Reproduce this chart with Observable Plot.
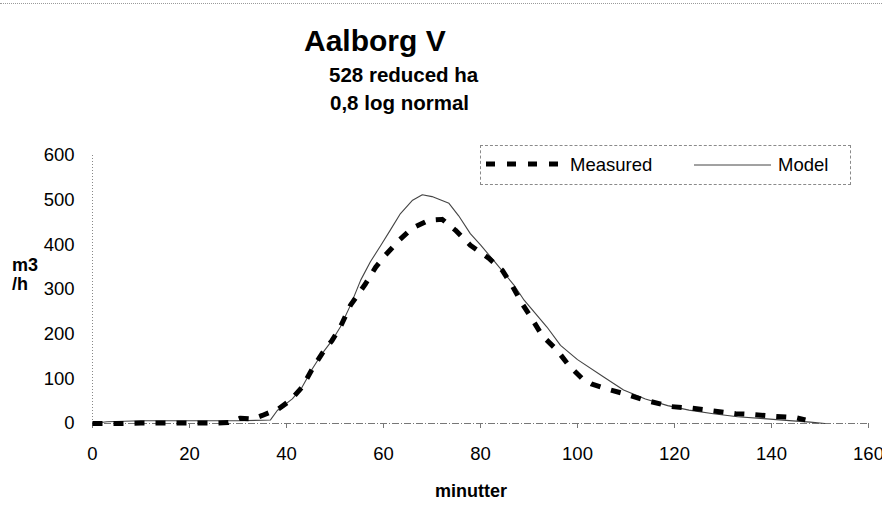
<!DOCTYPE html>
<html>
<head>
<meta charset="utf-8">
<script src="https://cdn.jsdelivr.net/npm/d3@7"></script>
<script src="https://cdn.jsdelivr.net/npm/@observablehq/plot@0.6"></script>
<style>
  body { margin: 0; background: #fff; }
  #wrap { position: relative; width: 882px; height: 508px; overflow: hidden;
          font-family: "Liberation Sans", Arial, Helvetica, sans-serif; color: #000; }
  .t { position: absolute; white-space: nowrap; line-height: 1; }
  .b { font-weight: bold; }
  #legend { position: absolute; left: 480px; top: 145px; width: 369px; height: 38px;
            border: 1px dashed #8a8a8a; }
  #topline { position: absolute; left: 0; top: 3px; width: 882px; border-top: 1px dotted #9a9a9a; }
</style>
</head>
<body>
<div id="wrap">
  <div id="topline"></div>
  <div class="t b" style="left:304px; top:26px; font-size:30px;">Aalborg V</div>
  <div class="t b" style="left:329px; top:65px; font-size:20.5px;">528 reduced ha</div>
  <div class="t b" style="left:330px; top:93px; font-size:20.5px;">0,8 log normal</div>
  <div class="t b" style="left:12px; top:256px; font-size:18px;">m3</div>
  <div class="t b" style="left:12px; top:275px; font-size:18px;">/h</div>
  <div class="t b" style="left:435px; top:482px; font-size:18px;">minutter</div>
  <div id="legend">
    <svg width="369" height="38" style="position:absolute;left:0;top:0;">
      <line x1="5" y1="18" x2="83" y2="18" stroke="#000" stroke-width="5" stroke-dasharray="9,12"/>
      <line x1="213" y1="19" x2="290" y2="19" stroke="#444" stroke-width="1"/>
    </svg>
    <div class="t" style="left:89px; top:10px; font-size:18.5px;">Measured</div>
    <div class="t" style="left:297px; top:10px; font-size:18.5px;">Model</div>
  </div>
  <div id="chart"></div>
</div>
<script>
// Data
const xTicks = [0, 20, 40, 60, 80, 100, 120, 140, 160];
const yTicks = [0, 100, 200, 300, 400, 500, 600];

const measuredMin = [0, 5, 10, 15, 20, 25, 28, 30.5, 33, 35, 38.4, 40.8, 43.2, 45.3, 47.3, 49.4, 51.1, 53.2, 56.3, 58.4, 60.4, 63.2, 65.9, 69.3, 72.1, 74.8, 77.9, 81.7, 84.5, 86.5, 88.6, 90.3, 92.7, 95.8, 98.2, 101, 103, 105.8, 109.5, 114, 119.2, 123.7, 127.4, 132.6, 136.3, 140.8, 145, 147];
const measuredVal = [0, 0, 1, 1, 1, 1, 2, 12, 10, 18, 33, 52, 81, 122, 156, 186, 216, 265, 313, 350, 377, 410, 437, 455, 457, 433, 399, 370, 343, 309, 268, 240, 197, 164, 130, 100, 88, 78, 67, 52, 38, 34, 29, 22, 20, 16, 13, 8];

const modelMin = [0, 3, 10, 20, 30, 36.7, 38.1, 41.2, 43.2, 45.3, 47.3, 49.4, 51.1, 53.2, 55.3, 57.3, 59.4, 61.4, 63.5, 66, 68, 70, 73.5, 75.5, 77.9, 80, 82.7, 86.9, 89, 93.7, 96.5, 100, 105.4, 109.5, 114, 118.6, 123, 128, 133, 138.4, 143, 148, 151];
const modelVal = [0, 4, 6, 6, 6, 8, 29, 55, 81, 122, 156, 186, 216, 265, 321, 362, 398, 433, 470, 500, 512, 508, 493, 465, 425, 400, 365, 310, 276, 216, 175, 143, 104, 75, 55, 40, 30, 22, 15, 11, 7, 3, 0];

const measured = measuredMin.map((x, i) => ({x, y: measuredVal[i]}));
const model = modelMin.map((x, i) => ({x, y: modelVal[i]}));

const chart = Plot.plot({
  width: 882,
  height: 508,
  marginLeft: 92,
  marginRight: 14,
  marginTop: 155,
  marginBottom: 85,
  x: {domain: [0, 160]},
  y: {domain: [0, 600]},
  style: {
    fontFamily: '"Liberation Sans", Arial, Helvetica, sans-serif',
    fontSize: "18.5px",
    color: "#000",
    background: "transparent",
    overflow: "visible"
  },
  marks: [
    Plot.ruleY([0], {stroke: "#777", strokeWidth: 1, strokeDasharray: "7,2,1,2"}),
    Plot.ruleX([0], {stroke: "#888", strokeWidth: 1, strokeDasharray: "1,2"}),
    Plot.axisX(xTicks, {tickSize: 5, tickPadding: 18, label: null, stroke: "#777"}),
    Plot.axisY(yTicks, {tickSize: 0, tickPadding: 18, label: null}),
    Plot.line(model, {x: "x", y: "y", stroke: "#444", strokeWidth: 1.1}),
    Plot.line(measured, {x: "x", y: "y", stroke: "#000", strokeWidth: 5, strokeDasharray: "10,11", strokeLinecap: "butt"})
  ]
});
chart.style.position = "absolute";
chart.style.left = "0px";
chart.style.top = "0px";
document.getElementById("chart").appendChild(chart);
</script>
</body>
</html>
